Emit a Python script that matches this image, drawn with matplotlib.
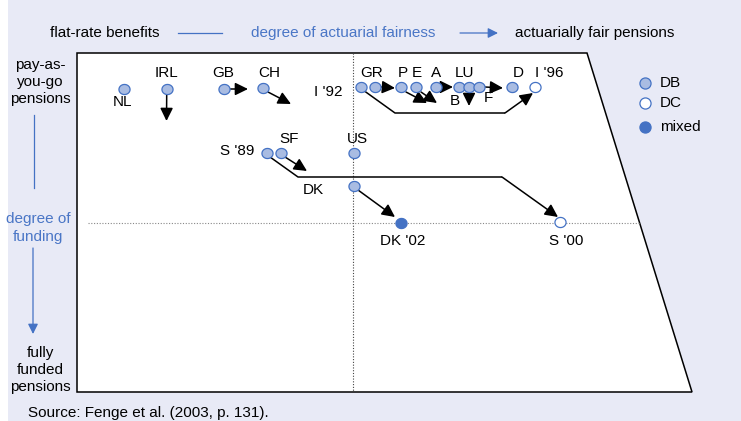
import numpy as np
import matplotlib
matplotlib.use("Agg")
import matplotlib.pyplot as plt
from matplotlib.path import Path
from matplotlib.patches import Polygon, Rectangle

plt.rcParams['font.family'] = ['Liberation Sans', 'DejaVu Sans']

# ---- data (positions on the conceptual chart plane, pixel-like units) ----
db_names = ["NL", "IRL", "GB", "CH", "GR1", "GR2", "P", "E", "A", "LU1", "LU2", "LU3", "D",
            "S89", "SF", "US", "DK"]
db_x = [124, 167, 224, 263, 361, 375, 401, 416, 436, 459, 469, 479, 512, 267, 281, 354, 354]
db_y = [89, 89, 89, 88, 87, 87, 87, 87, 87, 87, 87, 87, 87, 153, 153, 153, 186]
dc_names = ["I96", "S00"]
dc_x = [535, 560]
dc_y = [87, 222]
mixed_names = ["DK02"]
mixed_x = [401]
mixed_y = [223]

labels = ["NL", "IRL", "GB", "CH", "I '92", "GR", "P", "E", "A", "LU", "D", "I '96", "B", "F",
          "S '89", "SF", "US", "DK", "DK '02", "S '00"]
label_x = [123, 167, 223, 269, 343, 372, 403, 417, 436, 465, 518, 549, 455, 488,
           254, 289, 357, 313, 403, 566]
label_y = [102, 73, 73, 73, 92, 73, 73, 73, 73, 73, 73, 73, 101, 98,
           151, 139, 139, 190, 241, 241]
label_ha = ["center"] * 4 + ["right"] + ["center"] * 9 + ["right"] + ["center"] * 5

arrow_start = [(166.7, 95), (230, 89), (268, 92), (381, 87), (406, 92), (421, 92),
               (441, 87), (469, 92), (485, 87), (285, 157), (358, 190)]
arrow_end = [(166.5, 121), (248, 89), (291, 104), (395, 88), (427, 103), (437, 103),
             (453, 87), (469, 106), (503, 88), (307, 171), (395, 217)]

path_i92 = [(363, 90), (395, 113), (505, 113), (533, 93)]
path_s89 = [(270, 157), (298, 177), (502, 177), (558, 217)]

# ---- styles ----
BG = "#E8EAF6"
BLUE = "#4472C4"
DB_FILL = "#A9BCE2"
TEXT_BLUE = "#4A76C6"
FS = 11

fig = plt.figure(figsize=(7.41, 4.21), dpi=100)
fig.patch.set_facecolor("white")
ax = fig.add_axes([0, 0, 1, 1])
ax.set_xlim(0, 741)
ax.set_ylim(421, 0)
ax.axis("off")

ax.add_patch(Rectangle((8, 0), 741, 421, facecolor=BG, edgecolor="none", zorder=0))

# white panel
panel = Polygon([(77, 53), (587, 53), (692, 392), (77, 392)], closed=True,
                facecolor="white", edgecolor="black", lw=1.1, zorder=1)
ax.add_patch(panel)

# dotted guides
ax.plot([353, 353], [53, 392], color="#444444", lw=0.8, ls=(0, (1, 1.5)), zorder=2)
ax.plot([88, 640], [223, 223], color="#888888", lw=0.8, ls=(0, (1, 1.5)), zorder=2)

# ellipse marker
t = np.linspace(0, 2 * np.pi, 60)
ell = Path(np.column_stack([1.1 * np.cos(t), np.sin(t)]), closed=True)
MS = 8

ax.plot(db_x, db_y, ls="none", marker=ell, ms=MS, mfc=DB_FILL, mec=BLUE, mew=0.9, zorder=5)
ax.plot(dc_x, dc_y, ls="none", marker=ell, ms=MS, mfc="white", mec=BLUE, mew=0.9, zorder=5)
ax.plot(mixed_x, mixed_y, ls="none", marker=ell, ms=MS, mfc=BLUE, mec=BLUE, mew=0.9, zorder=5)

arrowprops = dict(arrowstyle="-|>,head_length=0.65,head_width=0.32", color="black",
                  lw=1.1, shrinkA=0, shrinkB=0, mutation_scale=12)
for s, e in zip(arrow_start, arrow_end):
    ax.annotate("", xy=e, xytext=s, arrowprops=arrowprops, zorder=4)

for path in (path_i92, path_s89):
    xs, ys = zip(*path)
    ax.plot(xs[:-1], ys[:-1], color="black", lw=1.1, zorder=4, solid_capstyle="butt")
    ax.annotate("", xy=path[-1], xytext=path[-2], arrowprops=arrowprops, zorder=4)

for lab, x, y, ha in zip(labels, label_x, label_y, label_ha):
    ax.text(x, y, lab, ha=ha, va="center", fontsize=FS, color="black", zorder=6)

# legend
leg_labels = ["DB", "DC", "mixed"]
leg_y = [83, 103, 127]
leg_fc = [DB_FILL, "white", BLUE]
for lab, y, fc in zip(leg_labels, leg_y, leg_fc):
    ax.plot([645], [y], marker="o", ms=MS, mfc=fc, mec=BLUE, mew=0.9, ls="none", zorder=5)
    ax.text(660, y, lab, ha="left", va="center", fontsize=FS, color="black")

# top axis description
ax.text(50, 33, "flat-rate benefits", ha="left", va="center", fontsize=FS)
ax.plot([178, 222], [33, 33], color=BLUE, lw=0.9)
ax.text(343, 33, "degree of actuarial fairness", ha="center", va="center", fontsize=FS,
        color=TEXT_BLUE)
ax.annotate("", xy=(498, 33), xytext=(460, 33),
            arrowprops=dict(arrowstyle="-|>,head_length=0.5,head_width=0.25", color=BLUE,
                            lw=0.9, shrinkA=0, shrinkB=0, mutation_scale=12))
ax.text(515, 33, "actuarially fair pensions", ha="left", va="center", fontsize=FS)

# left axis description
ax.text(40, 82, "pay-as-\nyou-go\npensions", ha="center", va="center", fontsize=FS,
        linespacing=1.3)
ax.plot([34, 34], [115, 188], color=BLUE, lw=0.9)
ax.text(38, 228, "degree of\nfunding", ha="center", va="center", fontsize=FS,
        color=TEXT_BLUE, linespacing=1.3)
ax.annotate("", xy=(33, 334), xytext=(33, 248),
            arrowprops=dict(arrowstyle="-|>,head_length=0.5,head_width=0.25", color=BLUE,
                            lw=0.9, shrinkA=0, shrinkB=0, mutation_scale=12))
ax.text(40, 370, "fully\nfunded\npensions", ha="center", va="center", fontsize=FS,
        linespacing=1.3)

ax.text(28, 413.5, "Source: Fenge et al. (2003, p. 131).", ha="left", va="center", fontsize=FS)

fig.savefig("out.png", dpi=100, facecolor=fig.get_facecolor())
